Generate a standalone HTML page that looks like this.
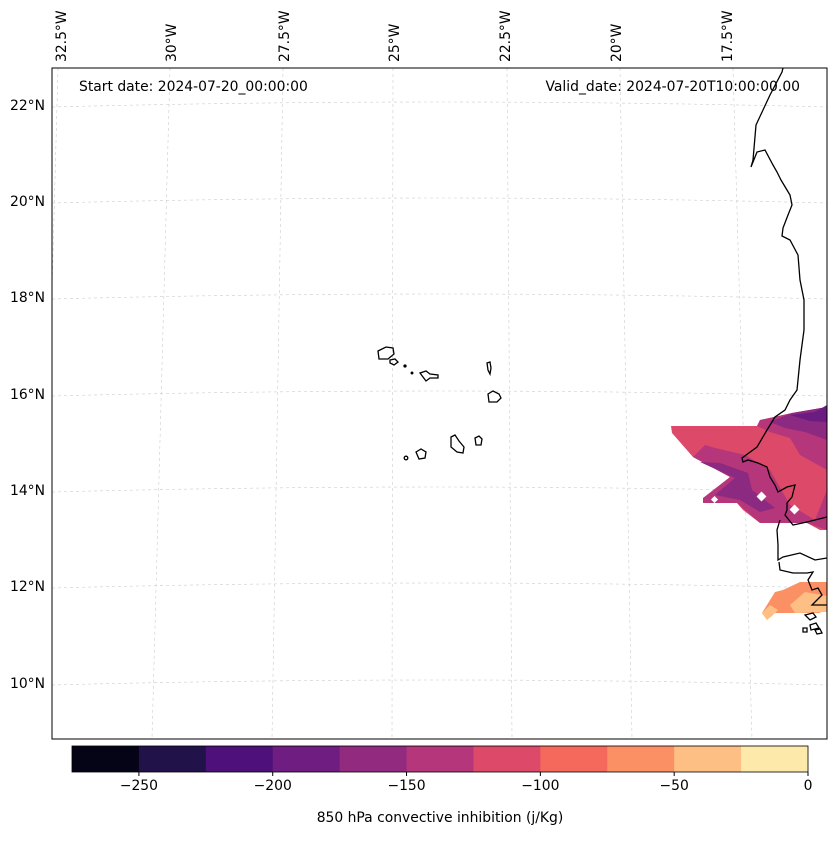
<!DOCTYPE html>
<html><head><meta charset="utf-8"><style>
body{margin:0;background:#fff;font-family:"Liberation Sans","DejaVu Sans",sans-serif;}
svg text{font-family:"DejaVu Sans","Liberation Sans",sans-serif;font-size:13.9px;fill:#000;}
</style></head><body>
<svg id="c" width="837" height="836" viewBox="0 0 837 836">
<defs><clipPath id="mapclip"><rect x="52" y="68" width="775" height="671"/></clipPath></defs>
<g id="grid"></g>
<g clip-path="url(#mapclip)">
 <polygon fill="#dd4968" points="671,426 757,426 760,420 792,413 827,407 827,530 820,530 807,523 760,523 743,510 737,503 703,503 703,498 710,497 730,477 693,457 672,433"/>
 <polygon fill="#b5367a" points="693,457 730,477 703,498 703,503 737,503 760,523 807,523 827,530 827,490 815,520 790,505 770,470 745,455 715,448 705,445"/>
 <polygon fill="#b5367a" points="757,426 760,420 792,413 827,407 827,470 800,455 790,438 770,432"/>
 <polygon fill="#8c2981" points="700,462 735,478 715,495 740,500 760,512 775,508 752,490 748,473 720,463"/>
 <polygon fill="#8c2981" points="770,422 792,413 827,407 827,440 805,432 785,428"/>
 <polygon fill="#6a1c80" points="790,415 815,412 827,405 827,422 810,421"/>
 <polygon fill="#fc9065" points="762,613 775,592 783,590 800,582 827,582 827,603 820,613 770,613 767,620"/>
 <polygon fill="#febf84" points="767,620 762,613 770,605 778,610 772,616"/>
 <polygon fill="#febf84" points="790,605 805,592 827,596 827,612 795,613"/>
 <rect x="758" y="493" width="7" height="7" fill="#fff" transform="rotate(45 761.5 496.5)"/>
 <rect x="791" y="506" width="7" height="7" fill="#fff" transform="rotate(45 794.5 509.5)"/>
 <rect x="712" y="497" width="5" height="5" fill="#fff" transform="rotate(45 714.5 499.5)"/>
</g>
<g clip-path="url(#mapclip)" fill="none" stroke="#000" stroke-width="1.3">
 <polyline points="783,68 782,72 770,95 756,125 753,160 751,167 757,152 765,150 773,165 777,172 781,180 790,195 792,205 788,215 783,228 782,236 790,240 798,255 800,280 804,300 804,330 800,360 797,390 790,400 785,410 775,417 767,430 757,447 742,458 743,462 748,460 758,463 767,467 770,477 775,485 778,492 787,487 795,485 792,497 787,503 787,510 785,515 793,525 807,522 827,517"/>
 <polyline points="780,520 777,530 778,545 778,560 783,557 800,553 815,560 827,558"/>
 <polyline points="779,562 780,570 793,573 807,573 813,572 808,580 812,590 818,588 822,595 812,605 827,605"/>
 <path d="M805,615 l8,-2 3,4 -6,3z M810,625 l6,-2 3,5 -8,2z M815,630 l5,-1 2,4 -5,1z M803,628 l4,0 0,4 -4,0z"/>
 <path d="M378,351 l8,-4 7,1 1,6 -6,5 -9,0z"/>
 <path d="M390,360 l5,-1 3,3 -4,3 -4,-2z"/>
 <path d="M420,373 l6,-2 4,3 8,1 0,3 -8,0 -4,3 -3,-4z"/>
 <path d="M487,363 l3,-1 1,6 -1,6 -2,-4z"/>
 <path d="M488,394 l5,-3 6,3 2,4 -4,4 -8,0z"/>
 <path d="M451,437 l4,-2 4,6 5,6 -1,6 -6,-1 -6,-5z"/>
 <path d="M475,438 l4,-2 3,3 -1,6 -5,0z"/>
 <path d="M416,452 l5,-3 5,3 -1,6 -6,1z"/>
 <circle cx="406" cy="458" r="1.8"/>
 <circle cx="405" cy="366" r="1" fill="#000"/>
 <circle cx="412" cy="373" r="0.8" fill="#000"/>
</g>
<rect x="52" y="68" width="775" height="671" fill="none" stroke="#000" stroke-width="1"/>
<text x="79" y="91">Start date: 2024-07-20_00:00:00</text>
<text x="800" y="91" text-anchor="end">Valid_date: 2024-07-20T10:00:00.00</text>
<g id="cbar"></g>
<text x="440" y="822" text-anchor="middle">850 hPa convective inhibition (j/Kg)</text>
</svg>
<script>
const lonLabels=["32.5°W","30°W","27.5°W","25°W","22.5°W","20°W","17.5°W"];
const lonTop=[58,170,283,393,507,620,733];
const lonBottom=[40,152,272,392,512,632,752];
const lonLabelX=[62,172,285,395,506,617,728];
const latLabels=["22°N","20°N","18°N","16°N","14°N","12°N","10°N"];
const latY=[106,202,298,395,491,587,684];
const levels=[-275,-250,-225,-200,-175,-150,-125,-100,-75,-50,-25,0];
const levelColors=["#050416","#211249","#4e117b","#6f1d81","#922a80","#b5367a","#dd4968","#f4695c","#fc9065","#febf84","#fde9a9"];
const cbTicks=[-250,-200,-150,-100,-50,0];
const NS="http://www.w3.org/2000/svg";
function mk(t,a,p){const e=document.createElementNS(NS,t);for(const k in a)e.setAttribute(k,a[k]);p.appendChild(e);return e;}
const g=document.getElementById('grid');
latY.forEach((y,i)=>{
 const p=mk('path',{d:`M52,${y+1} Q440,${y-9} 827,${y+1}`,fill:'none',stroke:'#ccc','stroke-width':0.6,'stroke-dasharray':'3,3'},g);
 
 
 const t=mk('text',{x:45,y:y+4,'text-anchor':'end'},document.getElementById('c'));
 t.textContent=latLabels[i];
 
 
});
lonTop.forEach((x,i)=>{
 const l=mk('line',{x1:x,y1:68,x2:lonBottom[i],y2:739,stroke:'#ccc','stroke-width':0.6,'stroke-dasharray':'3,3','clip-path':'url(#mapclip)'},g);
 
 
 const lx=lonLabelX[i],t=mk('text',{x:0,y:0,transform:`translate(${lx+4},62) rotate(-90)`},document.getElementById('c'));
 t.textContent=lonLabels[i];
 
 
});
const cb=document.getElementById('cbar');
const cx0=72,cx1=808,cy=746,ch=26;
const sx=v=>cx0+(v-levels[0])/(levels[levels.length-1]-levels[0])*(cx1-cx0);
levelColors.forEach((c,i)=>{
 const r=mk('rect',{x:sx(levels[i]),y:cy,width:sx(levels[i+1])-sx(levels[i])+0.5,height:ch,fill:c},cb);
 
 
});
mk('rect',{x:cx0,y:cy,width:cx1-cx0,height:ch,fill:'none',stroke:'#000','stroke-width':0.8},cb);
cbTicks.forEach(v=>{
 mk('line',{x1:sx(v),y1:cy+ch,x2:sx(v),y2:cy+ch+4,stroke:'#000'},cb);
 const t=mk('text',{x:sx(v),y:cy+ch+18,'text-anchor':'middle'},cb);
 t.textContent=v<0?'\u2212'+Math.abs(v):String(v);
 
 
});
</script>
</body></html>
